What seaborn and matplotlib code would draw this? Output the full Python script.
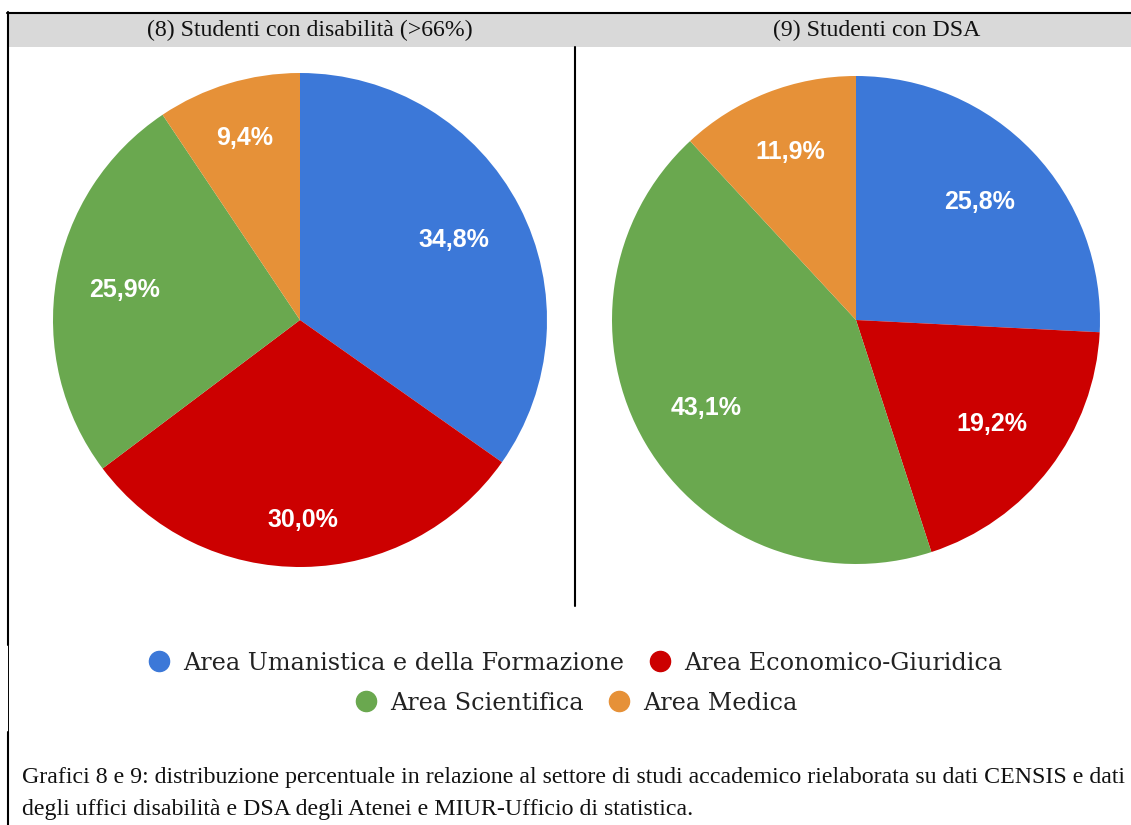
import numpy as np
import matplotlib
matplotlib.use("Agg")
import matplotlib.pyplot as plt
from matplotlib.lines import Line2D
from matplotlib.patches import Rectangle
import seaborn as sns

# Data
categories = ["Area Umanistica e della Formazione", "Area Economico-Giuridica",
              "Area Scientifica", "Area Medica"]
disabilita = [34.8, 30.0, 25.9, 9.4]
dsa = [25.8, 19.2, 43.1, 11.9]
titles = ["(8) Studenti con disabilità (>66%)", "(9) Studenti con DSA"]
caption = ["Grafici 8 e 9: distribuzione percentuale in relazione al settore di studi accademico "
           "rielaborata su dati CENSIS e dati",
           "degli uffici disabilità e DSA degli Atenei e MIUR-Ufficio di statistica."]

sns.set_theme(style="white")
palette = sns.color_palette(["#3c78d8", "#cc0000", "#6aa84f", "#e69138"])

W, H = 1131, 825
fig = plt.figure(figsize=(W / 100, H / 100), dpi=100)


def fx(px):
    return px / W


def fy(py):
    return 1 - py / H


# frame lines and header band
fig.add_artist(Rectangle((fx(8), fy(47)), fx(W - 8), 34 / H, color="#d9d9d9", lw=0))
fig.add_artist(Line2D([fx(7), 1], [fy(12.5), fy(12.5)], color="black", lw=1.5))
fig.add_artist(Line2D([fx(8), fx(8)], [fy(12), fy(645)], color="black", lw=1.5))
fig.add_artist(Line2D([fx(8), fx(8)], [fy(645), fy(732)], color="black", lw=0.7))
fig.add_artist(Line2D([fx(8), fx(8)], [fy(732), 0], color="black", lw=1.5))
fig.add_artist(Line2D([fx(575), fx(575)], [fy(47), fy(606)], color="black", lw=1.5))

fig.text(fx(310), fy(30), titles[0], ha="center", va="center",
         family="Liberation Serif", fontsize=17.2, color="#111111")
fig.text(fx(877), fy(30), titles[1], ha="center", va="center",
         family="Liberation Serif", fontsize=17.2, color="#111111")


def draw_pie(values, cx, cy, r, label_dist):
    ax = fig.add_axes([fx(cx - r), fy(cy + r), 2 * r / W, 2 * r / H])
    wedges, _ = ax.pie(values, colors=palette, startangle=90, counterclock=False,
                       wedgeprops=dict(linewidth=0))
    ax.set_xlim(-1, 1)
    ax.set_ylim(-1, 1)
    ax.set_aspect("equal")
    ax.axis("off")
    for w, v, d in zip(wedges, values, label_dist):
        ang = np.deg2rad((w.theta1 + w.theta2) / 2)
        ax.text(d * np.cos(ang), d * np.sin(ang), f"{v:.1f}%".replace(".", ","),
                ha="center", va="center", color="white", fontsize=18,
                fontweight="bold", family="Liberation Sans")


draw_pie(disabilita, 300, 320, 247, [0.70, 0.81, 0.72, 0.77])
draw_pie(dsa, 856, 320, 244, [0.70, 0.70, 0.71, 0.74])

# legend, two centered rows
handles = [Line2D([], [], marker="o", ls="", markersize=14.5, color=c) for c in palette]
leg_kw = dict(loc="center", frameon=False, handlelength=0.8, handletextpad=0.6,
              columnspacing=1.1, prop=dict(family="DejaVu Serif", size=17.2),
              labelcolor="#222222")
fig.legend(handles[:2], categories[:2], ncol=2, bbox_to_anchor=(fx(576), fy(663)), **leg_kw)
fig.legend(handles[2:], categories[2:], ncol=2, bbox_to_anchor=(fx(577), fy(703)), **leg_kw)

fig.text(fx(22), fy(777), caption[0], ha="left", va="center", family="Liberation Serif",
         fontsize=17.2, color="#111111")
fig.text(fx(22), fy(810), caption[1], ha="left", va="center", family="Liberation Serif",
         fontsize=17.2, color="#111111")

fig.savefig("out.png", dpi=100)
